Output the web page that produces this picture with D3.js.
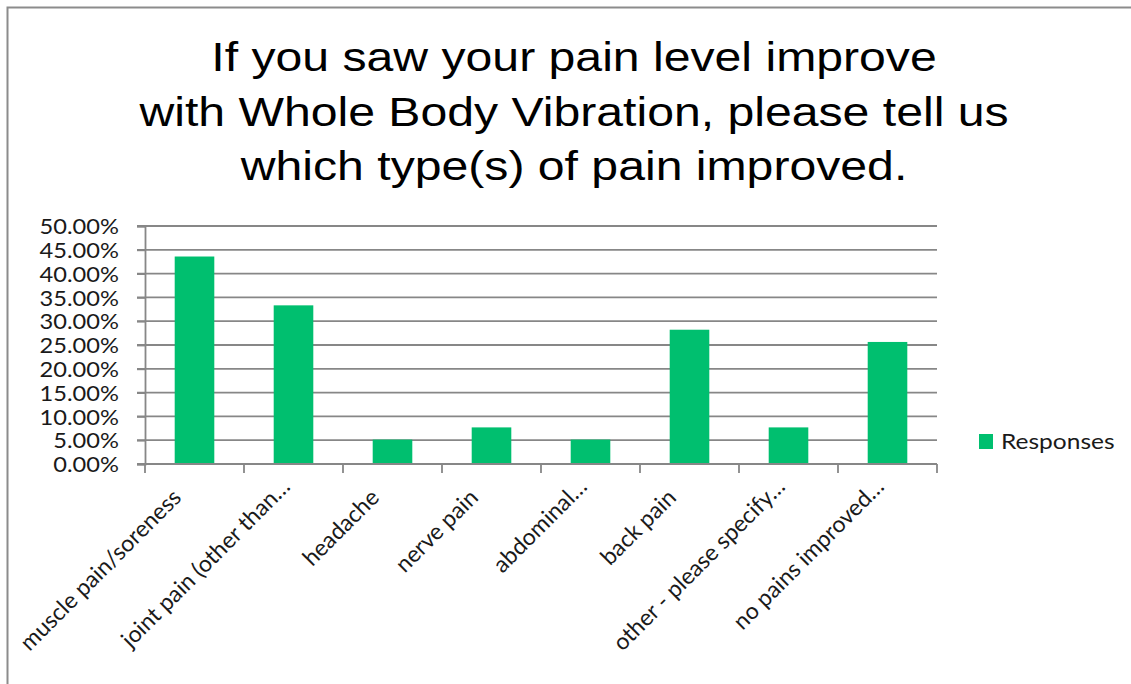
<!DOCTYPE html>
<html>
<head>
<meta charset="utf-8">
<script src="https://cdn.jsdelivr.net/npm/d3@7/dist/d3.min.js"></script>
<style>
  html, body { margin: 0; padding: 0; background: #fff; }
  svg { display: block; }
</style>
</head>
<body>
<svg id="chart" width="1131" height="684"></svg>
<script>
// Survey answers: share of respondents reporting each type of pain improved
const categories = [
  "muscle pain/soreness",
  "joint pain (other than…",
  "headache",
  "nerve pain",
  "abdominal…",
  "back pain",
  "other - please specify…",
  "no pains improved…"
];
const responses = [0.4359, 0.3333, 0.0513, 0.0769, 0.0513, 0.2821, 0.0769, 0.2564];
const yTicks = [0, 0.05, 0.10, 0.15, 0.20, 0.25, 0.30, 0.35, 0.40, 0.45, 0.50];
const titleLines = [
  "If you saw your pain level improve",
  "with Whole Body Vibration, please tell us",
  "which type(s) of pain improved."
];
const seriesName = "Responses";

const W = 1131, H = 684;
const plot = { left: 145, right: 937, top: 226, bottom: 464 };
const green = "#00bf6f";
const gridColor = "#878787";
const labelFont = "Lato, 'Open Sans', sans-serif";
const textColor = "#1a1a1a";
// horizontal text widening used for the title and value labels
const stretch = 1.1;

const svg = d3.select("#chart");

// outer frame (top and left edges visible)
svg.append("path")
  .attr("d", `M7.5,${H + 5} V7.5 H${W + 5}`)
  .attr("fill", "none")
  .attr("stroke", "#8c8c8c")
  .attr("stroke-width", 2);

// title
svg.append("g")
  .attr("transform", "translate(574,0) scale(1.175,1)")
  .append("text")
  .attr("text-anchor", "middle")
  .attr("font-family", "'Liberation Sans', Arial, sans-serif")
  .attr("font-size", 41)
  .attr("fill", "#000")
  .selectAll("tspan")
  .data(titleLines)
  .join("tspan")
  .attr("x", 0)
  .attr("y", (d, i) => 71.5 + i * 54.5)
  .text(d => d);

const x = d3.scaleBand()
  .domain(categories)
  .range([plot.left, plot.right])
  .paddingInner(0.6)
  .paddingOuter(0.3);

const y = d3.scaleLinear()
  .domain([0, 0.5])
  .range([plot.bottom, plot.top]);

// horizontal gridlines
svg.append("g")
  .selectAll("line")
  .data(yTicks.slice(1))
  .join("line")
  .attr("x1", plot.left - 8)
  .attr("x2", plot.right)
  .attr("y1", d => y(d))
  .attr("y2", d => y(d))
  .attr("stroke", gridColor)
  .attr("stroke-width", 1.8);

// bars
svg.append("g")
  .selectAll("rect")
  .data(responses)
  .join("rect")
  .attr("x", (d, i) => x(categories[i]))
  .attr("width", x.bandwidth())
  .attr("y", d => y(d))
  .attr("height", d => y(0) - y(d))
  .attr("fill", green);

// y axis
const yAxis = svg.append("g")
  .attr("transform", `translate(${plot.left},0)`)
  .call(d3.axisLeft(y)
    .tickValues(yTicks)
    .tickFormat(d3.format(".2%"))
    .tickSize(8)
    .tickPadding(18));
yAxis.select(".domain").attr("stroke", gridColor).attr("stroke-width", 1.8);
yAxis.selectAll(".tick line").attr("stroke", gridColor).attr("stroke-width", 1.8);
yAxis.selectAll(".tick text")
  .attr("x", 0)
  .attr("dy", "0.36em")
  .attr("transform", `translate(-26,0) scale(${stretch},1)`)
  .attr("font-family", labelFont)
  .attr("font-size", 21.5)
  .attr("fill", textColor);

// x axis: ticks sit on category boundaries
const boundaries = d3.range(categories.length + 1)
  .map(i => plot.left + i * (plot.right - plot.left) / categories.length);
const xAxis = svg.append("g");
xAxis.append("line")
  .attr("x1", plot.left - 8)
  .attr("x2", plot.right)
  .attr("y1", plot.bottom)
  .attr("y2", plot.bottom)
  .attr("stroke", gridColor)
  .attr("stroke-width", 1.8);
xAxis.selectAll("line.tk")
  .data(boundaries)
  .join("line")
  .attr("class", "tk")
  .attr("x1", d => d)
  .attr("x2", d => d)
  .attr("y1", plot.bottom)
  .attr("y2", plot.bottom + 9)
  .attr("stroke", gridColor)
  .attr("stroke-width", 1.8);

// rotated category labels; shortened labels sit a little further out
xAxis.selectAll("text")
  .data(categories)
  .join("text")
  .attr("transform", d => {
    const cut = d.endsWith("…");
    const cx = x(d) + x.bandwidth() / 2 + (cut ? -2 : -12);
    const cy = plot.bottom + (cut ? 24 : 35);
    return `translate(${cx},${cy}) rotate(-45)`;
  })
  .attr("text-anchor", "end")
  .attr("font-family", labelFont)
  .attr("font-size", 23)
  .attr("fill", textColor)
  .text(d => d);

// legend
const legend = svg.append("g").attr("transform", "translate(979,434)");
legend.append("rect")
  .attr("width", 14)
  .attr("height", 15)
  .attr("fill", green);
legend.append("text")
  .attr("transform", `translate(22,15) scale(${stretch + 0.04},1)`)
  .attr("font-family", labelFont)
  .attr("font-size", 21.5)
  .attr("fill", textColor)
  .text(seriesName);
</script>
</body>
</html>
